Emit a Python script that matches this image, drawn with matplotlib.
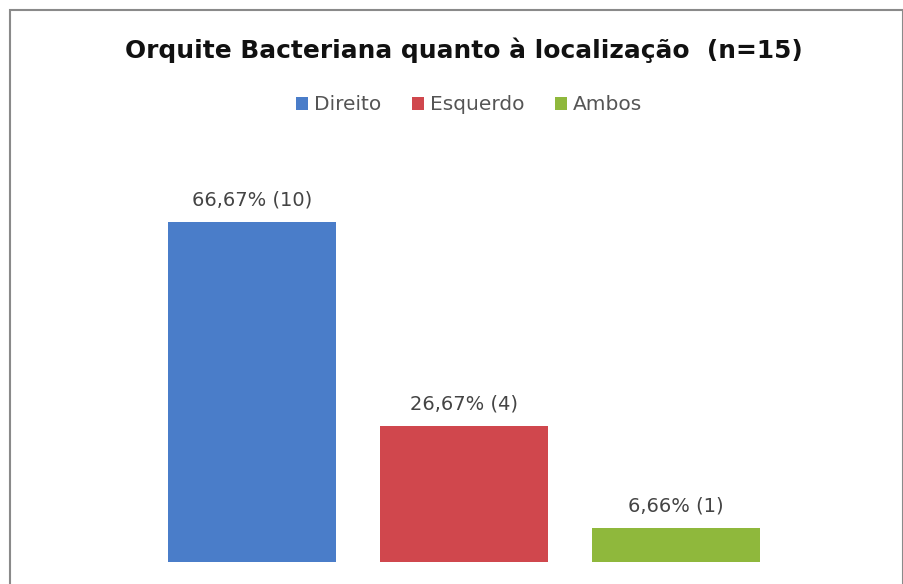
import matplotlib
matplotlib.use("Agg")
import matplotlib.pyplot as plt
from matplotlib.patches import Rectangle, Patch

plt.rcParams['font.family'] = ['DejaVu Sans']

categorias = ['Direito', 'Esquerdo', 'Ambos']
percentuais = [66.67, 26.67, 6.66]
contagens = [10, 4, 1]
rotulos = ['66,67% (10)', '26,67% (4)', '6,66% (1)']
cores = ['#4A7DC9', '#D0474D', '#8FB83C']

W, H = 904, 584
fig = plt.figure(figsize=(W / 100, H / 100), dpi=100)

# moldura cinza do grafico
fig.patches.append(Rectangle((10 / W, -0.1), (W - 11) / W, (H - 10) / H + 0.1,
                             transform=fig.transFigure, fill=False,
                             edgecolor='#8a8a8a', linewidth=1.5))

# eixos posicionados em pixels
left, right = 40, 888
bottom, top = 562, 154
ax = fig.add_axes([left / W, (H - bottom) / H, (right - left) / W, (bottom - top) / H])
ax.set_xlim(-1, 3)
ax.set_ylim(0, 80)
ax.axis('off')

x = range(len(categorias))
ax.bar(x, percentuais, width=0.79, color=cores)
for i, (p, r) in enumerate(zip(percentuais, rotulos)):
    ax.annotate(r, (i, p), xytext=(0, 9), textcoords='offset points',
                ha='center', va='bottom', fontsize=14, color='#444444')

fig.text(464 / W, 1 - 50 / H, 'Orquite Bacteriana quanto à localização  (n=15)',
         ha='center', va='center', fontsize=17.9, fontweight='bold', color='#111111')

handles = [Patch(facecolor=c, edgecolor='none') for c in cores]
leg = fig.legend(handles, categorias, loc='center', bbox_to_anchor=(469 / W, 1 - 105 / H),
                 ncol=3, frameon=False, handlelength=0.6, handleheight=0.6,
                 handletextpad=0.3, columnspacing=1.5, prop={'size': 14.5})
for t in leg.get_texts():
    t.set_color('#555555')

fig.savefig('out.png', dpi=100)
